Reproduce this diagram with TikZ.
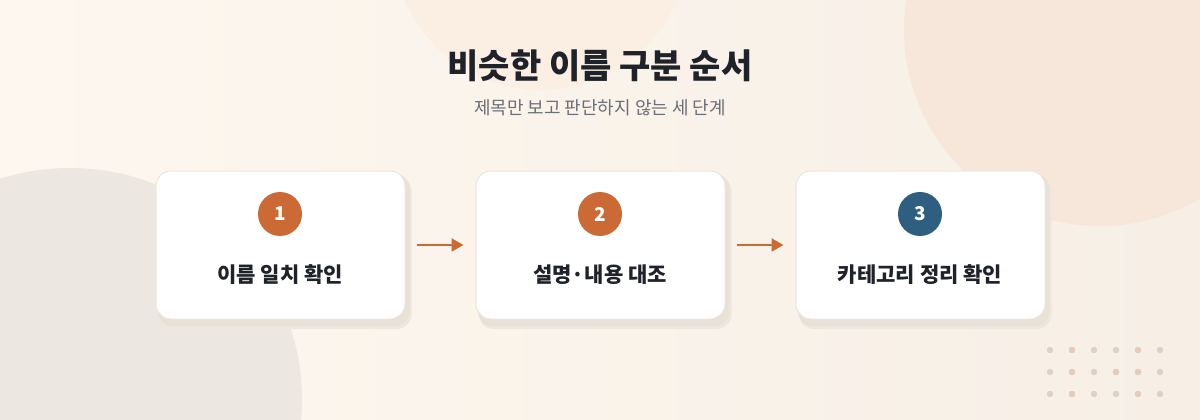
\documentclass[tikz,border=0pt]{standalone}
\usepackage{fontspec}
\setmainfont{Noto Sans CJK KR}
\newfontfamily\kr{Noto Sans CJK KR}
\usetikzlibrary{arrows.meta}
\definecolor{bgA}{HTML}{FDF7EF}
\definecolor{bgB}{HTML}{F7EFE6}
\definecolor{blobTop}{HTML}{FBEFE3}
\definecolor{blobRight}{HTML}{F6E7DA}
\definecolor{blobLeft}{HTML}{ECE8E1}
\definecolor{orangeC}{HTML}{CC6A35}
\definecolor{blueC}{HTML}{2E5F80}
\definecolor{titleC}{HTML}{1F2329}
\definecolor{subC}{HTML}{6B6F76}
\definecolor{shadowC}{HTML}{E8E1D8}
\definecolor{borderC}{HTML}{EDE5DB}
\definecolor{dotC}{HTML}{DDD0C6}
\definecolor{dotO}{HTML}{E6CBB8}
\tikzset{
  card/.style={draw=borderC, line width=1pt, fill=white, rounded corners=15pt, minimum width=249pt, minimum height=148pt, inner sep=0pt},
  cardshadow/.style={fill=shadowC, rounded corners=15pt},
  badge/.style={circle, minimum size=44pt, inner sep=0pt, text=white, font=\kr\bfseries\fontsize{19}{22}\selectfont},
  steplabel/.style={text=titleC, font=\kr\bfseries\fontsize{21}{24}\selectfont, inner sep=0pt},
  flow/.style={draw=orangeC, line width=2.5pt, -{Triangle[length=12pt,width=13pt]}},
  dotstyle/.style={fill=dotC}
}
\begin{document}
\begin{tikzpicture}[x=1pt,y=-1pt]
\useasboundingbox (0,0) rectangle (1200,420);
\begin{scope}
\clip (0,0) rectangle (1200,420);
\shade[left color=bgA, right color=bgB] (0,0) rectangle (1200,420);
\fill[blobTop] (541,-58) circle (148);
\fill[blobRight] (1100,30) circle (196);
\fill[blobLeft] (70,400) circle (232);
\end{scope}
% title
\node[text=titleC, font=\kr\bfseries\fontsize{34}{40}\selectfont, inner sep=0pt] (title) at (600,66) {비슷한 이름 구분 순서};
\node[text=subC, font=\kr\fontsize{18}{22}\selectfont, inner sep=0pt] (sub) at (600,108) {제목만 보고 판단하지 않는 세 단계};
% cards
\foreach \cx in {280.5, 600.5, 920.5}{
  \fill[shadowC!60!bgB, rounded corners=15pt] ({\cx-121.5},176) rectangle ({\cx+131},329);
  \fill[cardshadow] ({\cx-122.5},174) rectangle ({\cx+129},326);
}
\node[card] (c1) at (280.5,245) {};
\node[card] (c2) at (600.5,245) {};
\node[card] (c3) at (920.5,245) {};
\node[badge, fill=orangeC] (b1) at (280,214) {1};
\node[badge, fill=orangeC] (b2) at (600,214) {2};
\node[badge, fill=blueC] (b3) at (920,214) {3};
\node[steplabel] (l1) at (280,275) {이름 일치 확인};
\node[steplabel] (l2) at (600,275) {설명·내용 대조};
\node[steplabel] (l3) at (920,275) {카테고리 정리 확인};
\draw[flow] ([xshift=11pt]c1.east) -- ([xshift=-12pt]c2.west);
\draw[flow] ([xshift=11pt]c2.east) -- ([xshift=-12pt]c3.west);
% dots
\foreach \r in {0,1,2}{
  \foreach \c in {0,...,5}{
    \fill[dotstyle] ({1050+22*\c},{350+22*\r}) circle (3.2);
  }
}
\foreach \c/\r in {1/0, 4/0, 1/1, 3/1, 4/1, 1/2, 4/2}{
  \fill[dotO] ({1050+22*\c},{350+22*\r}) circle (3.2);
}
\end{tikzpicture}
\end{document}
